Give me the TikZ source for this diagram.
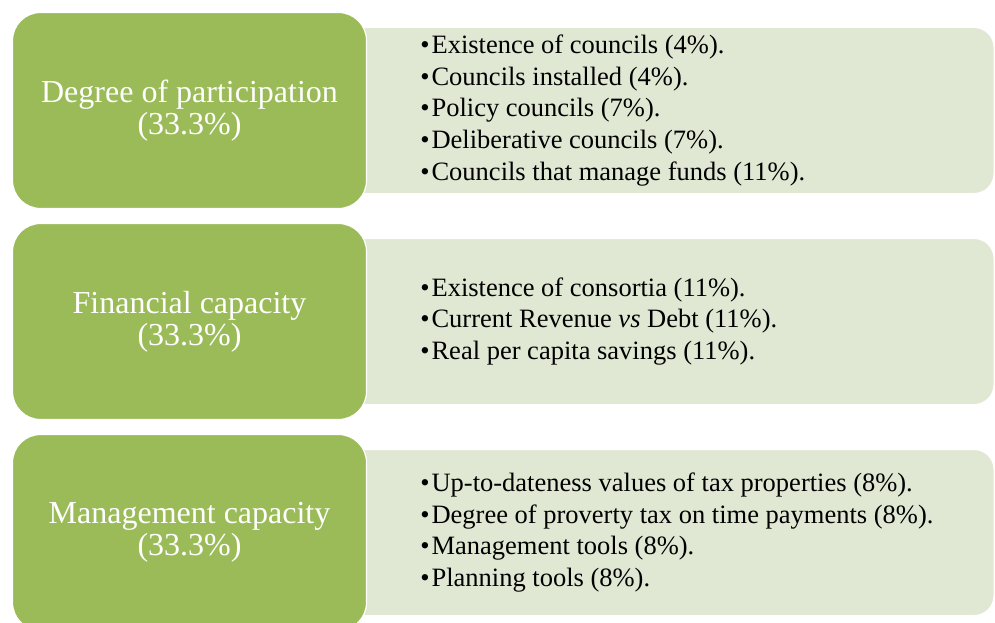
\documentclass[tikz,border=0pt]{standalone}
\usepackage{fontspec}
\setmainfont{Liberation Serif}
\usetikzlibrary{positioning}
\definecolor{leaf}{HTML}{9BBB59}
\definecolor{pale}{HTML}{E0E8D4}
\newcommand{\itm}{\textbullet\hspace{2pt}}
\tikzstyle{heading} = [rectangle, rounded corners=28pt, fill=leaf, draw=white, line width=1.2pt, minimum width=354pt, minimum height=196pt, text=white, align=center, font=\fontsize{32}{32}\selectfont]
\tikzstyle{panel}   = [rectangle, rounded corners=20pt, fill=pale, draw=white, line width=1pt, minimum width=674pt, minimum height=166pt]
\tikzstyle{items}   = [align=left, inner sep=0pt, font=\fontsize{26.5}{31.8}\selectfont]

\begin{document}
\begin{tikzpicture}[x=1pt, y=-1pt, node distance=211pt]
	\useasboundingbox (0,0) rectangle (995,623);
	% pale panels behind
	\node [panel] (pan1) at (657,110.5) {};
	\node [panel, below of=pan1] (pan2) {};
	\node [panel, below of=pan2] (pan3) {};
	% green headings
	\node [heading] (part) at (189.5,110.5) {Degree of participation\\(33.3\%)};
	\node [heading, below of=part] (fin) {Financial capacity\\(33.3\%)};
	\node [heading, below of=fin] (mgmt) {Management capacity\\(33.3\%)};
	% item lists
	\node [items, right=53pt of part] (partlist) {\itm Existence of councils (4\%).\\ \itm Councils installed (4\%).\\ \itm Policy councils (7\%).\\ \itm Deliberative councils (7\%).\\ \itm Councils that manage funds (11\%).};
	\node [items, right=53pt of fin] (finlist) {\itm Existence of consortia (11\%).\\ \itm Current Revenue \textit{vs} Debt (11\%).\\ \itm Real per capita savings (11\%).};
	\node [items, right=53pt of mgmt] (mgmtlist) {\itm Up-to-dateness values of tax properties (8\%).\\ \itm Degree of proverty tax on time payments (8\%).\\ \itm Management tools (8\%).\\ \itm Planning tools (8\%).};
\end{tikzpicture}
\end{document}
